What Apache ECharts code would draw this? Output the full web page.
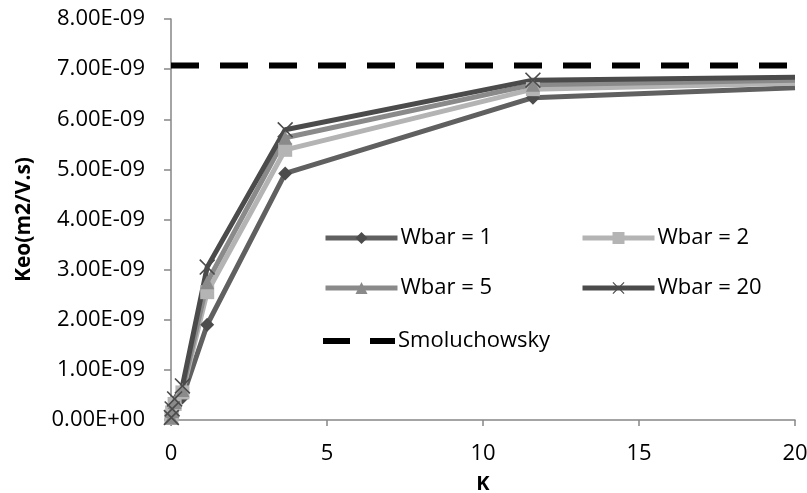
<!DOCTYPE html>
<html>
<head>
<meta charset="utf-8">
<script src="https://cdn.jsdelivr.net/npm/echarts@6/dist/echarts.min.js"></script>
<style>
  html, body { margin: 0; padding: 0; background: #fff; }
  #chart { width: 807px; height: 493px; }
</style>
</head>
<body>
<div id="chart"></div>
<script>
// K values (dimensionless) shared by all Wbar curves
const kValues = [0.0116, 0.0366, 0.116, 0.366, 1.16, 3.66, 11.6, 20];

// Keo in units of 1e-9 m2/(V.s)
const wbar1  = [0.03, 0.10, 0.25, 0.45, 1.90, 4.92, 6.43, 6.63];
const wbar2  = [0.04, 0.15, 0.32, 0.55, 2.55, 5.39, 6.60, 6.72];
const wbar5  = [0.05, 0.18, 0.36, 0.60, 2.75, 5.63, 6.69, 6.78];
const wbar20 = [0.05, 0.22, 0.42, 0.68, 3.05, 5.79, 6.78, 6.84];

// Smoluchowsky limit (1e-9 m2/(V.s)) over the K range
const smoluchowskyK = [0, 20];
const smoluchowsky = 7.07;

const yTicks = [0, 1, 2, 3, 4, 5, 6, 7, 8];
const xTicks = [0, 5, 10, 15, 20];

const seriesNames = ['Wbar = 1', 'Wbar = 2', 'Wbar = 5', 'Wbar = 20', 'Smoluchowsky'];

const FONT = 'Open Sans';

function pairs(ks, vs) {
  // last point sits on the right edge of the plot: line only, no marker
  return ks.map((k, i) => i === ks.length - 1
    ? { value: [k, vs[i]], symbol: 'none' }
    : [k, vs[i]]);
}

function fmtTick(v) {
  if (v === 0) return '0.00E+00';
  return v.toFixed(2) + 'E-09';
}

const crossPath = 'path://M0,1L1,0L7,6L13,0L14,1L8,7L14,13L13,14L7,8L1,14L0,13L6,7Z';
const dashPath = 'path://M0,0H27V6H0ZM47,0H72V6H47Z';

function lineSeries(name, data, lineColor, markColor, symbol, size) {
  return {
    name: name,
    type: 'line',
    data: pairs(kValues, data),
    symbol: symbol,
    symbolSize: size,
    showAllSymbol: true,
    clip: true,
    color: lineColor,
    lineStyle: { color: lineColor, width: 5 },
    itemStyle: { color: markColor, borderWidth: 0 },
    emphasis: { disabled: true },
    animation: false
  };
}

function legendAt(name, left, top, icon) {
  const item = icon ? { name: name, icon: icon } : name;
  return {
    data: [item],
    left: left,
    top: top,
    padding: 0,
    itemWidth: 72,
    itemHeight: icon ? 6 : 15,
    itemGap: 0,
    lineStyle: { width: 5 },
    textStyle: { fontFamily: FONT, fontSize: 22, color: '#000', padding: [0, 0, 0, -2] },
    selectedMode: false
  };
}

const chart = echarts.init(document.getElementById('chart'), null, { renderer: 'canvas' });

chart.setOption({
  backgroundColor: '#ffffff',
  animation: false,
  grid: { left: 171, right: 12, top: 19, bottom: 73, containLabel: false, outerBoundsMode: 'none' },
  legend: [
    legendAt(seriesNames[0], 323, 227),
    legendAt(seriesNames[1], 580, 227),
    legendAt(seriesNames[2], 323, 277),
    legendAt(seriesNames[3], 580, 277),
    legendAt(seriesNames[4], 323, 330, dashPath)
  ],
  xAxis: {
    type: 'value',
    min: xTicks[0],
    max: xTicks[xTicks.length - 1],
    interval: 5,
    name: 'K',
    nameLocation: 'middle',
    nameGap: 54,
    nameTextStyle: { fontFamily: FONT, fontSize: 20, fontWeight: 'bold', color: '#000' },
    axisLine: { lineStyle: { color: '#868686', width: 1.5 } },
    axisTick: { show: true, length: 6, lineStyle: { color: '#868686', width: 1.5 } },
    axisLabel: { fontFamily: FONT, fontSize: 22, color: '#000', margin: 23 },
    splitLine: { show: false }
  },
  yAxis: {
    type: 'value',
    min: yTicks[0],
    max: yTicks[yTicks.length - 1],
    interval: 1,
    name: 'Keo(m2/V.s)',
    nameLocation: 'middle',
    nameGap: 136,
    nameRotate: 90,
    nameTextStyle: { fontFamily: FONT, fontSize: 21, fontWeight: 'bold', color: '#000' },
    axisLine: { show: true, lineStyle: { color: '#868686', width: 1.5 } },
    axisTick: { show: true, length: 7, lineStyle: { color: '#868686', width: 1.5 } },
    axisLabel: { fontFamily: FONT, fontSize: 22, color: '#000', margin: 26, formatter: fmtTick },
    splitLine: { show: false }
  },
  series: [
    lineSeries(seriesNames[0], wbar1, '#606060', '#4c4c4c', 'diamond', 14),
    lineSeries(seriesNames[1], wbar2, '#b4b4b4', '#b4b4b4', 'rect', 14),
    lineSeries(seriesNames[2], wbar5, '#8a8a8a', '#8a8a8a', 'triangle', 14),
    lineSeries(seriesNames[3], wbar20, '#4b4b4b', '#4b4b4b', crossPath, 16),
    {
      name: seriesNames[4],
      type: 'line',
      data: smoluchowskyK.map(k => [k, smoluchowsky]),
      symbol: 'none',
      color: '#000',
      lineStyle: { color: '#000', width: 6, type: [28, 21], cap: 'butt' },
      emphasis: { disabled: true },
      animation: false
    }
  ]
});
</script>
</body>
</html>
